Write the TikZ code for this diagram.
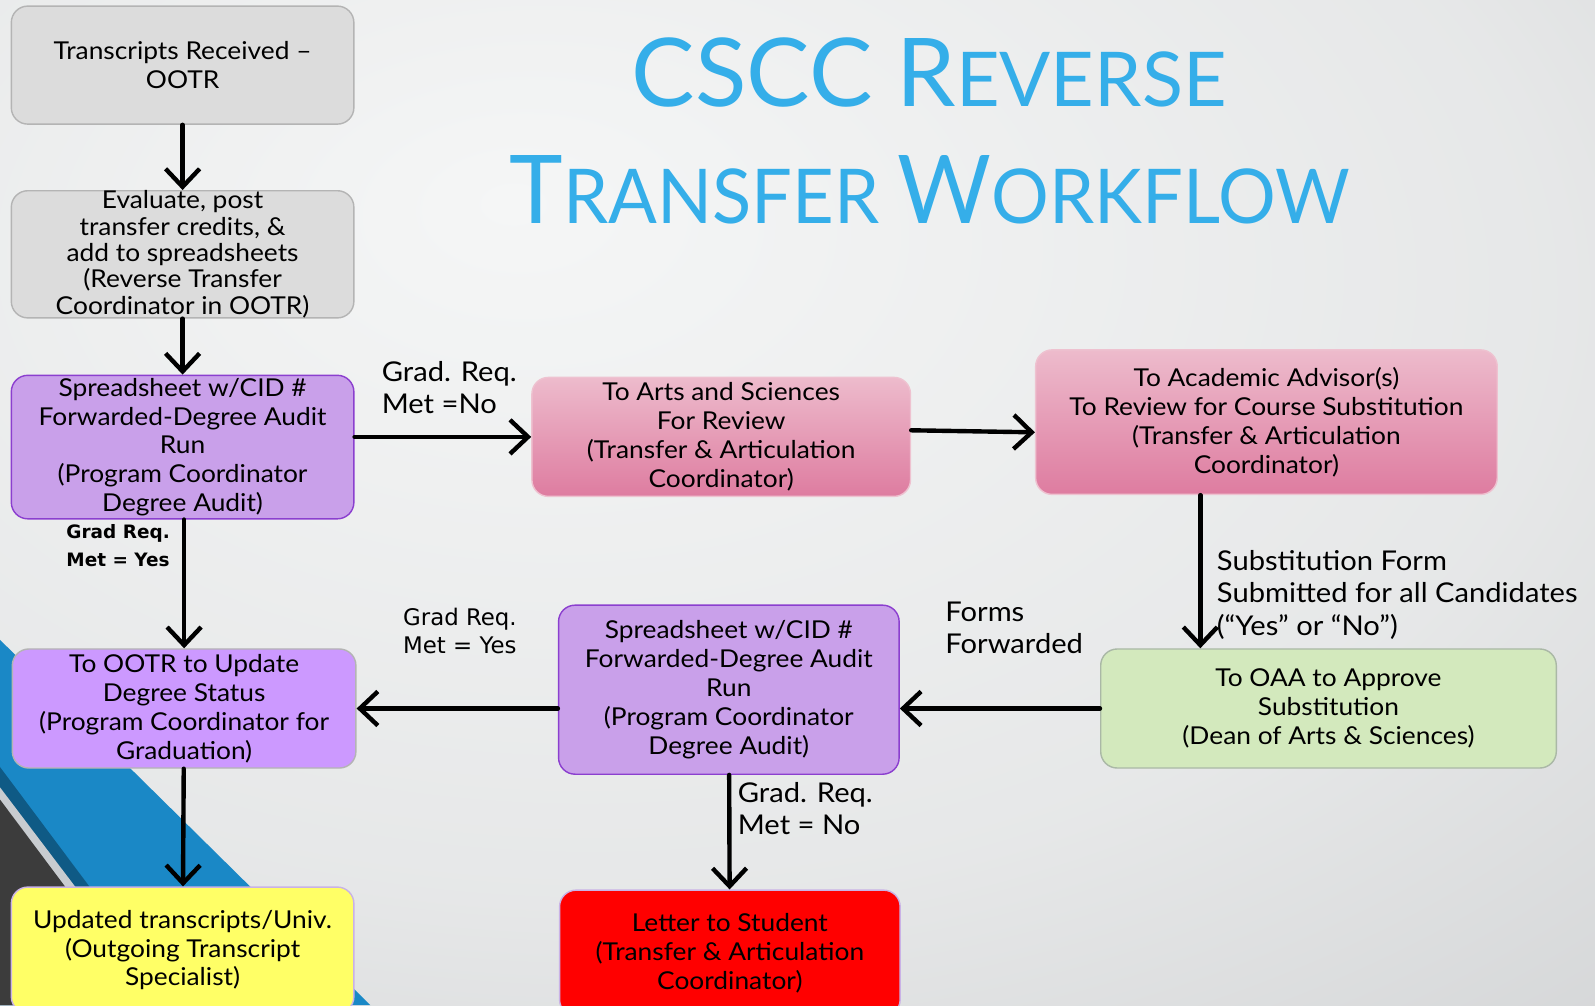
\documentclass[tikz,border=0pt]{standalone}
\usepackage{fontspec}
\setmainfont[FakeStretch=1.07]{Lato}
\newfontfamily\titlefont{Lato}
\newfontfamily\titlefontb[FakeStretch=0.955]{Lato}
\newfontfamily\tahfont{DejaVu Sans}
\usetikzlibrary{arrows.meta}
\usetikzlibrary{positioning}

\definecolor{bglight}{HTML}{F5F6F6}
\definecolor{bgdark}{HTML}{C4C6C8}
\definecolor{titleblue}{HTML}{35AEE9}
\definecolor{boxgray}{HTML}{DCDCDC}
\definecolor{linegray}{HTML}{B4B4B4}
\definecolor{ssviolet}{HTML}{C9A0EA}
\definecolor{ssborder}{HTML}{8B3FCF}
\definecolor{ootrviolet}{HTML}{CC99FF}
\definecolor{pinktop}{HTML}{EDBBCC}
\definecolor{pinkbot}{HTML}{DE7CA0}
\definecolor{pinkline}{HTML}{EEC2D0}
\definecolor{oaagreen}{HTML}{D3E9BD}
\definecolor{oaaline}{HTML}{AAB8A6}
\definecolor{updyellow}{HTML}{FFFF66}
\definecolor{lightviolet}{HTML}{C9B2E6}
\definecolor{bandblue}{HTML}{1A88C6}
\definecolor{banddark}{HTML}{0F5A85}
\definecolor{bandstripe}{HTML}{C8CCD0}
\definecolor{bandgray}{HTML}{3C3C3C}

\pgfdeclareradialshading{slidebg}{\pgfpoint{-9bp}{15bp}}{color(0bp)=(bglight); color(30bp)=(bglight!70!bgdark); color(62bp)=(bgdark); color(100bp)=(bgdark)}

\begin{document}
\begin{tikzpicture}[x=0.02034cm,y=-0.02034cm,line cap=round,line join=round,
  box/.style={rounded corners=0.33cm,align=center,inner sep=0pt,line width=0.8pt,
    font=\fontsize{14}{16.4}\selectfont},
  graybox/.style={box,draw=linegray,fill=boxgray},
  ssbox/.style={box,draw=ssborder,fill=ssviolet},
  pinkbox/.style={box,draw=pinkline,top color=pinktop,bottom color=pinkbot},
  flow/.style={-{Straight Barb[length=3.6mm,width=6.8mm]},line width=2.5pt},
  lbl/.style={align=left,anchor=north west,inner sep=0pt,font=\fontsize{15.5}{18.3}\selectfont}]
\clip (0,0) rectangle (1568,988);
\useasboundingbox (0,0) rectangle (1568,988);
% background and corner bands
\shade[shading=slidebg] (0,0) rectangle (1568,988);
\fill[bandblue] (0,629) -- (364,988) -- (0,988) -- cycle;
\fill[banddark] (0,754) -- (175,988) -- (0,988) -- cycle;
\fill[bandstripe] (0,774) -- (162,988) -- (0,988) -- cycle;
\fill[bandgray] (0,786) -- (151,988) -- (0,988) -- cycle;
% title
\node[anchor=base,text=titleblue,inner sep=0pt] (title1) at (913.5,105)
  {\titlefont\fontsize{54}{54}\selectfont CSCC R\fontsize{43}{43}\selectfont EVERSE};
\node[anchor=base,text=titleblue,inner sep=0pt] (title2) at (914,220)
  {\titlefontb\fontsize{54}{54}\selectfont T\fontsize{43}{43}\selectfont RANSFER
   \fontsize{54}{54}\selectfont W\fontsize{43}{43}\selectfont ORKFLOW};
% boxes
\node[graybox,minimum width=6.85cm,minimum height=2.36cm] (recv) at (179.5,64)
  {Transcripts Received --\\OOTR};
\node[graybox,minimum width=6.85cm,minimum height=2.52cm,
  font=\fontsize{14}{15}\selectfont] (eval) at (179.5,250)
  {Evaluate, post\\transfer credits, \&\\add to spreadsheets\\(Reverse Transfer\\Coordinator in OOTR)};
\node[ssbox,minimum width=6.85cm,minimum height=2.87cm] (ss1) at (179.5,439.5)
  {Spreadsheet w/CID \#\\Forwarded-Degree Audit\\Run\\(Program Coordinator\\Degree Audit)};
\node[pinkbox,minimum width=7.57cm,minimum height=2.38cm] (arts) at (709,429.5)
  {To Arts and Sciences\\For Review\\(Transfer \& Articulation\\Coordinator)};
\node[pinkbox,minimum width=9.23cm,minimum height=2.89cm] (advisor) at (1245,415)
  {To Academic Advisor(s)\\To Review for Course Substitution\\(Transfer \& Articulation\\Coordinator)};
\node[box,draw=oaaline,fill=oaagreen,minimum width=9.11cm,minimum height=2.38cm] (oaa) at (1306,696.5)
  {To OAA to Approve\\Substitution\\(Dean of Arts \& Sciences)};
\node[ssbox,minimum width=6.81cm,minimum height=3.38cm] (ss2) at (716.5,678)
  {Spreadsheet w/CID \#\\Forwarded-Degree Audit\\Run\\(Program Coordinator\\Degree Audit)};
\node[box,draw=linegray,fill=ootrviolet,minimum width=6.87cm,minimum height=2.38cm] (ootr) at (181,696.5)
  {To OOTR to Update\\Degree Status\\(Program Coordinator for\\Graduation)};
\node[box,draw=lightviolet,fill=updyellow,minimum width=6.85cm,minimum height=2.52cm] (upd) at (179.5,934)
  {Updated transcripts/Univ.\\(Outgoing Transcript\\Specialist)};
\node[box,draw=lightviolet,fill=red,minimum width=6.81cm,minimum height=2.52cm] (letter) at (717.5,937)
  {Letter to Student\\(Transfer \& Articulation\\Coordinator)};
% connectors
\coordinate (subx) at (1180,0);
\coordinate (artsy) at (0,423);
\coordinate (advy) at (0,425);
\draw[flow] (recv) -- (eval);
\draw[flow] (eval) -- (ss1);
\draw[flow] (ss1.east |- arts.west) -- (arts.west);
\draw[flow] (arts.east |- artsy) -- (advisor.west |- advy);
\draw[flow] (advisor.south -| subx) -- (oaa.north -| subx);
\draw[flow] (oaa.west) -- (ss2.east |- oaa.west);
\draw[flow] (ss2.west |- ootr.east) -- (ootr.east);
\draw[flow] (ss1.south -| ootr.north) -- (ootr.north);
\draw[flow] (ss2) -- (letter);
\draw[flow] (ootr) -- (upd);
% labels
\node[lbl] (nolbl) at (375,355) {Grad. Req.\\Met =No};
\node[lbl] (sublbl) at (1196,541) {Substitution Form\\Submitted for all Candidates\\(``Yes'' or ``No'')};
\node[lbl] (fwdlbl) at (929,591) {Forms\\Forwarded};
\node[lbl] (nolbl2) at (725,769) {Grad. Req.\\Met = No};
\node[lbl,font=\tahfont\fontsize{13}{16.2}\selectfont] (yeslbl2) at (396,597) {Grad Req.\\Met = Yes};
\node[lbl,font=\tahfont\bfseries\fontsize{10.5}{16.2}\selectfont] (yeslbl1) at (65,515) {Grad Req.\\Met = Yes};
\end{tikzpicture}
\end{document}
